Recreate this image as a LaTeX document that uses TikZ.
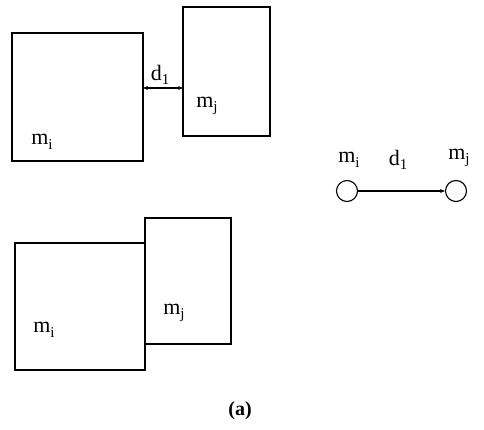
\documentclass[tikz,border=0pt]{standalone}
\usepackage{fontspec}
\setmainfont{Liberation Serif}
\usetikzlibrary{arrows.meta}
\newcommand{\lbl}[2]{#1\raisebox{-4.5pt}{\fontsize{15}{15}\selectfont #2}}
\begin{document}
\begin{tikzpicture}[x=1pt,y=-1pt,
  box/.style={draw,line width=1.3pt},
  lab/.style={font=\fontsize{22}{22}\selectfont,inner sep=0pt},
  vert/.style={draw,circle,line width=1.1pt,minimum size=21pt,inner sep=0pt},
  conn/.style={line width=1.1pt}]
\useasboundingbox (0,0) rectangle (484,430);
% top pair
\path[box] (12,33) rectangle (143,161);
\path[box] (183,7) rectangle (270,136);
\coordinate (ar1) at (143,88);
\coordinate (ar2) at (183,88);
\draw[conn,{Stealth[length=5pt,width=4pt]}-{Stealth[length=5pt,width=4pt]}] (ar1) -- (ar2);
\node[lab] (d1) at (160,75) {\lbl{d}{1}};
\node[lab] (mi1) at (42,142) {\lbl{m}{i}};
\node[lab] (mj1) at (207,106) {\lbl{m}{j}};
% bottom pair
\path[box] (15,243) rectangle (145,370);
\path[box] (145,218) rectangle (231,344);
\node[lab] (mi2) at (44,330) {\lbl{m}{i}};
\node[lab] (mj2) at (174,313) {\lbl{m}{j}};
% graph
\node[vert] (vi) at (347,191) {};
\node[vert] (vj) at (456,191) {};
\draw[conn,-{Stealth[length=5pt,width=4pt]}] (vi) -- (vj);
\node[lab] (gmi) at (349,160) {\lbl{m}{i}};
\node[lab] (gd) at (398,160) {\lbl{d}{1}};
\node[lab] (gmj) at (459,158) {\lbl{m}{j}};
% caption
\node[font=\fontsize{20}{20}\selectfont\bfseries] (cap) at (240,411) {(a)};
\end{tikzpicture}
\end{document}
